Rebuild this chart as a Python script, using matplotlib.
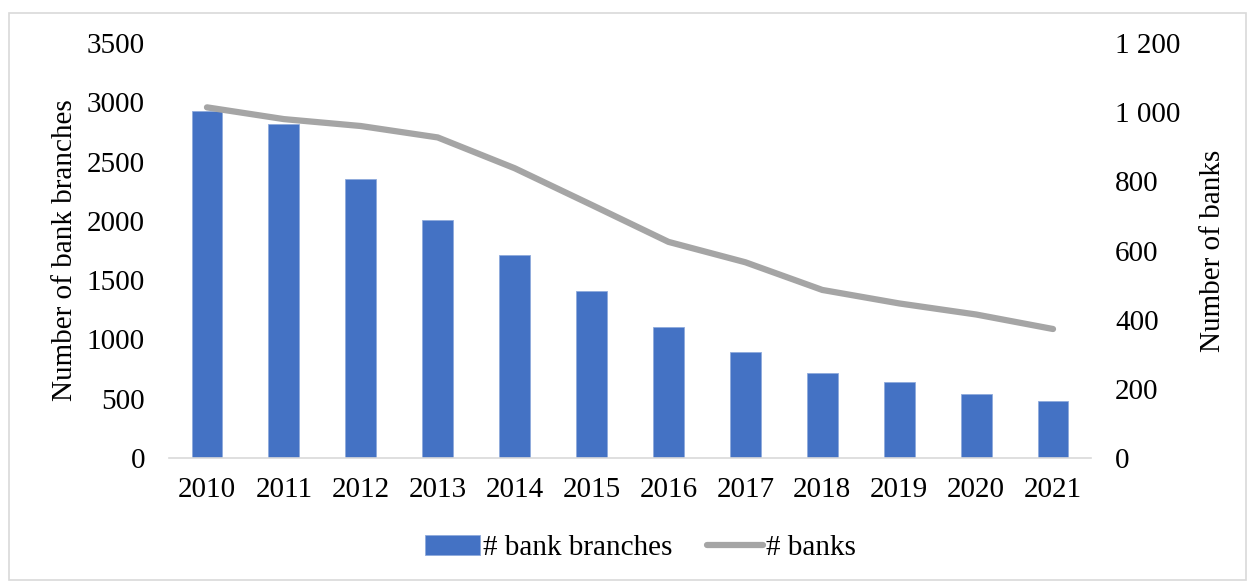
import numpy as np
import matplotlib.pyplot as plt
from matplotlib.patches import Rectangle
from matplotlib.ticker import FuncFormatter

plt.rcParams['font.family'] = ['Liberation Serif', 'DejaVu Serif']

years = ['2010', '2011', '2012', '2013', '2014', '2015',
         '2016', '2017', '2018', '2019', '2020', '2021']
branches = [2930, 2815, 2350, 2010, 1715, 1405, 1105, 897, 717, 638, 540, 478]
banks = [1014, 980, 960, 927, 838, 732, 625, 566, 486, 447, 415, 373]

bar_color = '#4472C4'
line_color = '#A5A5A5'
fs = 21

fig = plt.figure(figsize=(12.5, 5.83), dpi=100)
ax = fig.add_axes([0.1348, 0.2144, 0.7384, 0.7118])
ax2 = ax.twinx()

x = np.arange(len(years))
ax.bar(x, branches, width=0.4, color=bar_color, edgecolor='#8FAADC',
       linewidth=0.6, label='# bank branches', zorder=2)
ax2.plot(x, banks, color=line_color, lw=4.5, solid_capstyle='round',
         label='# banks', zorder=3)

ax.set_xlim(-0.5, len(years) - 0.5)
ax.set_ylim(0, 3500)
ax.set_yticks(range(0, 3501, 500))
ax2.set_ylim(0, 1200)
ax2.set_yticks(range(0, 1201, 200))
ax2.yaxis.set_major_formatter(FuncFormatter(
    lambda v, p: f'{int(v):,}'.replace(',', ' ')))

ax.set_xticks(x)
ax.set_xticklabels(years)

for a in (ax, ax2):
    for s in a.spines.values():
        s.set_visible(False)
    a.tick_params(length=0, labelsize=fs)
ax.spines['bottom'].set_visible(True)
ax.spines['bottom'].set_color('#D9D9D9')
ax.spines['bottom'].set_linewidth(1.2)
ax.tick_params(axis='x', pad=14)
ax.tick_params(axis='y', pad=17)
ax2.tick_params(axis='y', pad=17)
for lbl in ax2.get_yticklabels():
    lbl.set_horizontalalignment('left')

ax.set_ylabel('Number of bank branches', fontsize=fs, labelpad=6)
ax2.set_ylabel('Number of banks', fontsize=fs, labelpad=14)

h1, l1 = ax.get_legend_handles_labels()
h2, l2 = ax2.get_legend_handles_labels()
fig.legend(h1 + h2, l1 + l2, loc='center', bbox_to_anchor=(0.512, 0.06),
           ncol=2, frameon=False, fontsize=fs, handlelength=1.9,
           handletextpad=0.1, columnspacing=1.2)

fig.patches.append(Rectangle((0.007, 0.005), 0.99, 0.973, transform=fig.transFigure,
                             fill=False, edgecolor='#D9D9D9', linewidth=1.2))

fig.savefig('out.png', dpi=100)
